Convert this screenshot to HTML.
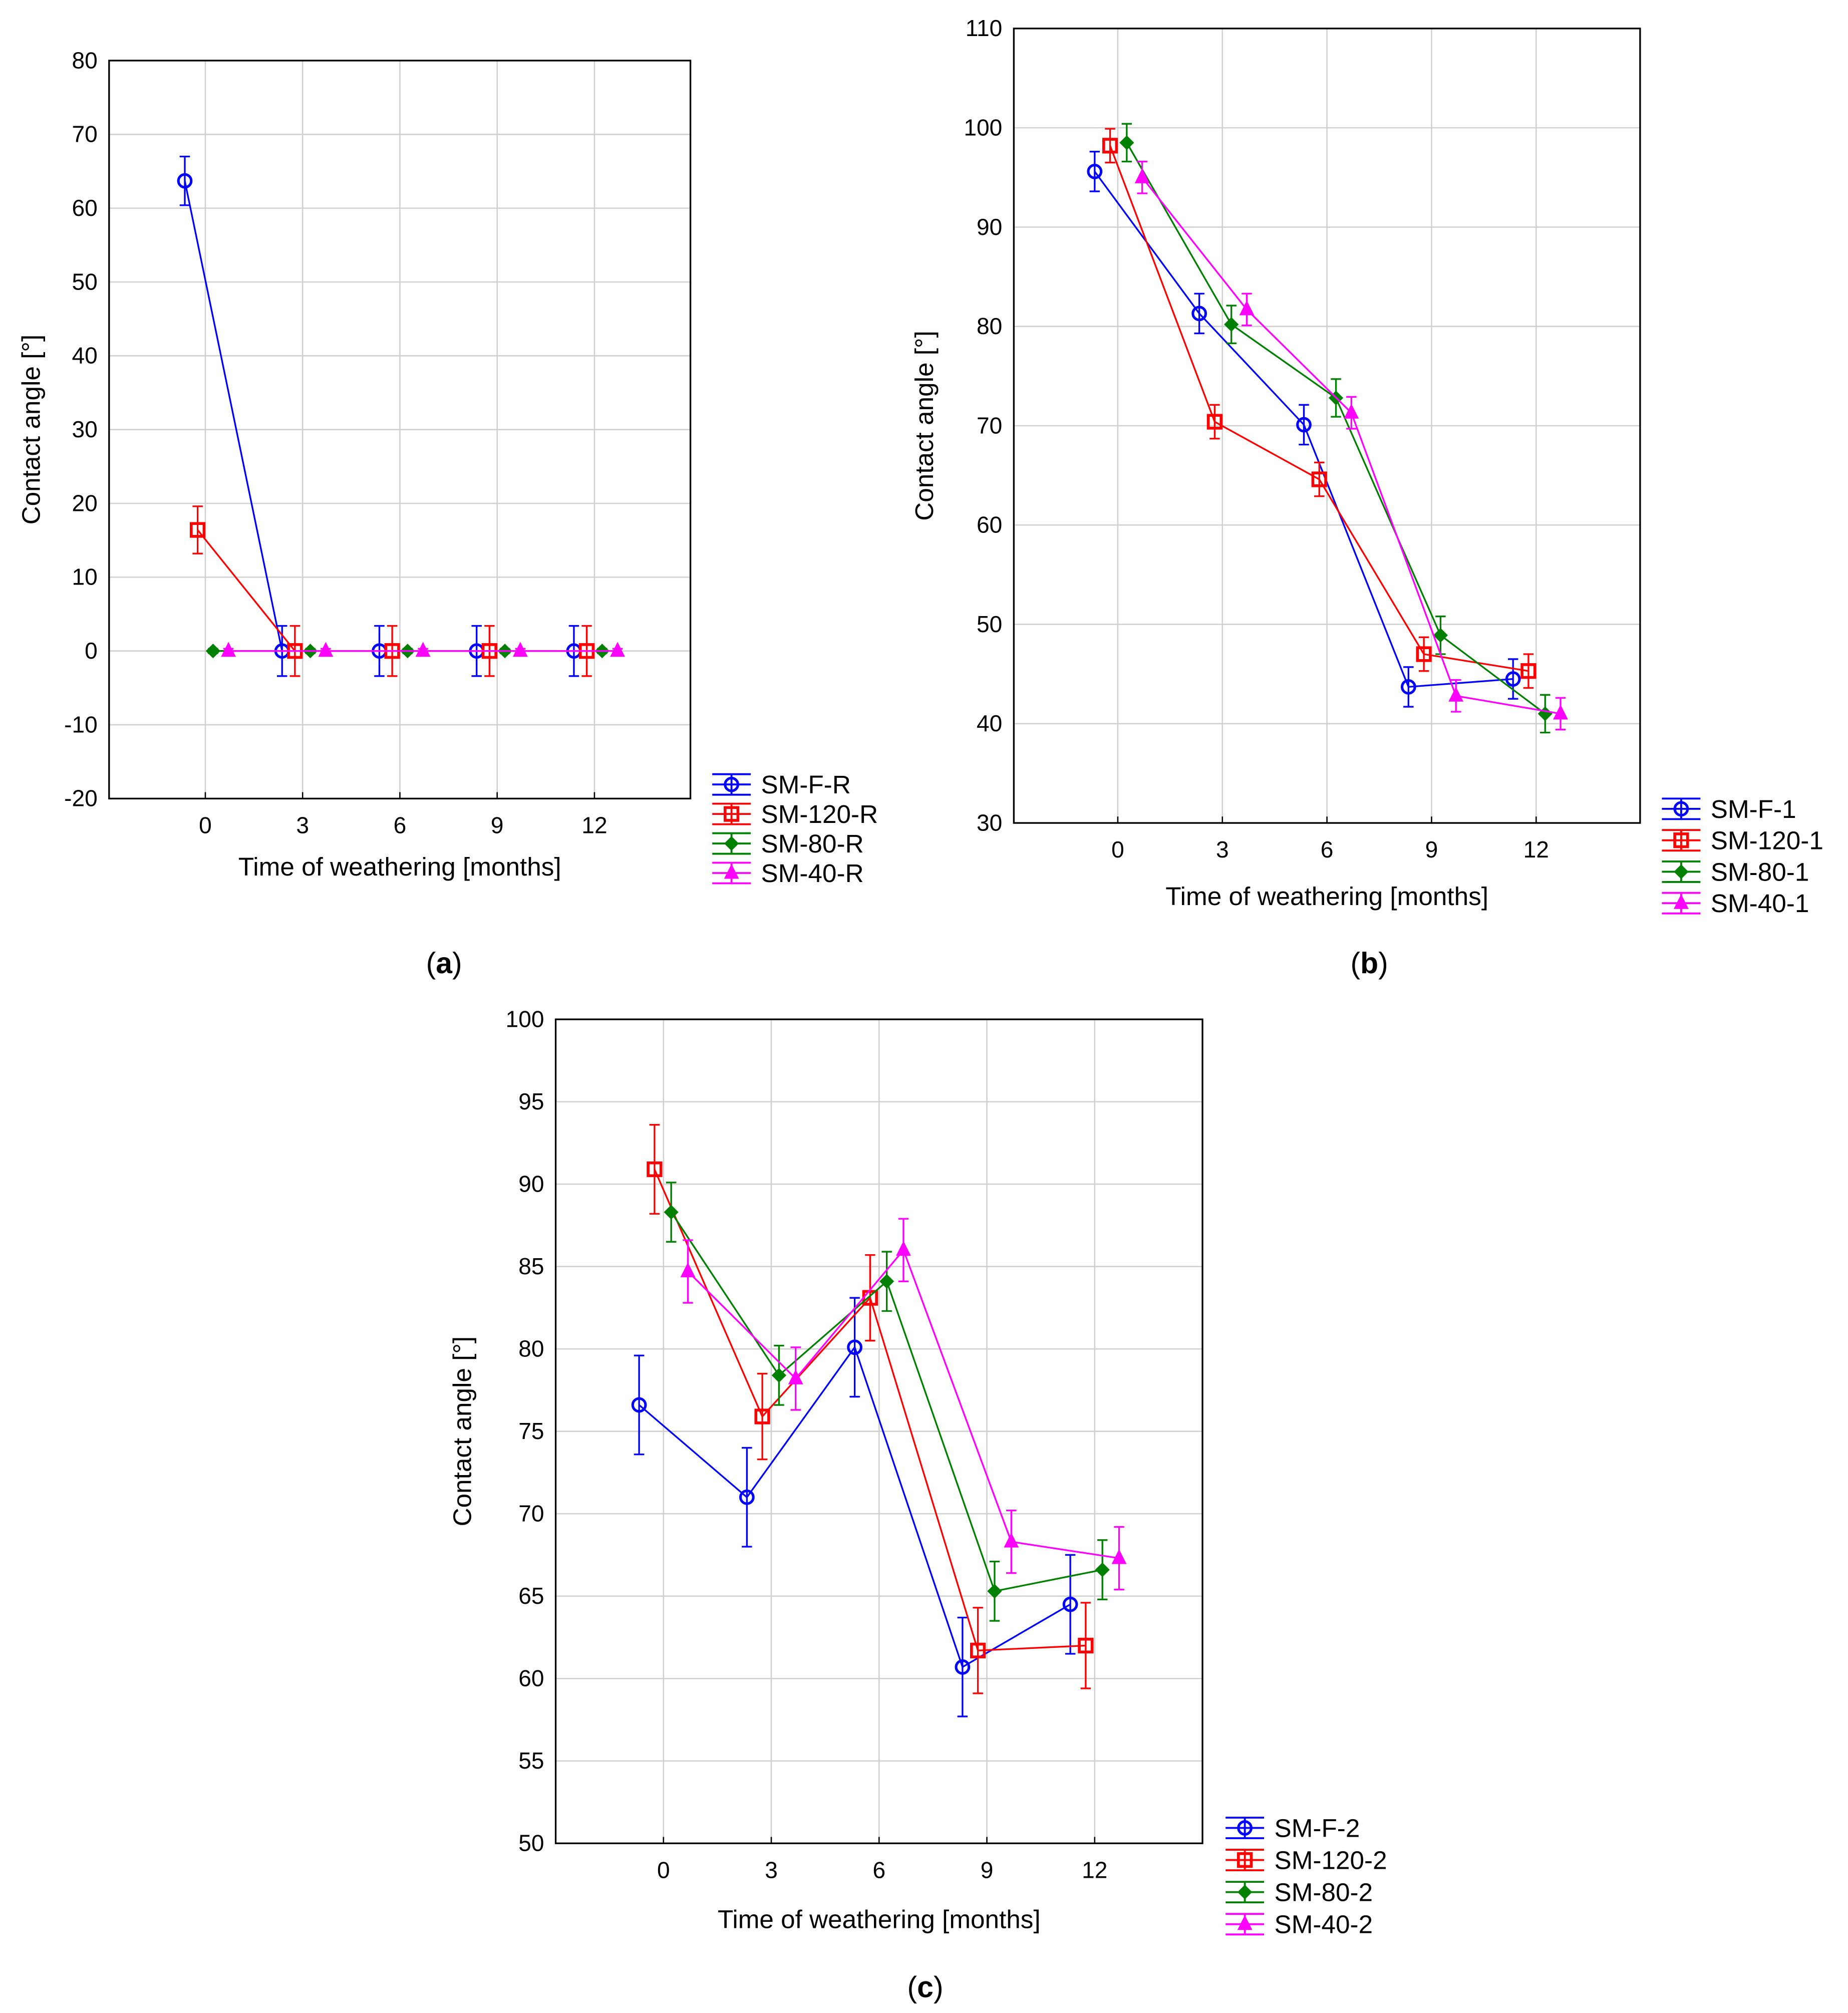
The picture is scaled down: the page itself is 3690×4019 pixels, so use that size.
<!DOCTYPE html>
<html><head><meta charset="utf-8"><style>
html,body{margin:0;padding:0;background:#fff;}
svg{display:block;}
text{font-family:"Liberation Sans",Arial,sans-serif;fill:#000;}
</style></head><body>
<svg id="fig" width="3690" height="4019" viewBox="0 0 1440 1568" xmlns="http://www.w3.org/2000/svg"></svg>
<script>
// ---- data ----
const categories = [0, 3, 6, 9, 12];
const seriesColors = ['#0000ff', '#ff0000', '#008000', '#ff00ff'];
const seriesMarkers = ['circle', 'square', 'diamond', 'triangle'];

const aNames = ['SM-F-R', 'SM-120-R', 'SM-80-R', 'SM-40-R'];
const aF = [63.7, 0, 0, 0, 0];
const a120 = [16.4, 0, 0, 0, 0];
const a80 = [0, 0, 0, 0, 0];
const a40 = [0, 0, 0, 0, 0];
const aErrF = [3.3, 3.4, 3.4, 3.4, 3.4];
const aErr120 = [3.2, 3.4, 3.4, 3.4, 3.4];
const aErr80 = [0.3, 0.3, 0.3, 0.3, 0.3];
const aErr40 = [0.3, 0.3, 0.3, 0.3, 0.3];
const aTicks = [-20, -10, 0, 10, 20, 30, 40, 50, 60, 70, 80];

const bNames = ['SM-F-1', 'SM-120-1', 'SM-80-1', 'SM-40-1'];
const bF = [95.6, 81.3, 70.1, 43.7, 44.5];
const b120 = [98.2, 70.4, 64.6, 47.0, 45.3];
const b80 = [98.5, 80.2, 72.8, 48.9, 41.0];
const b40 = [95.0, 81.7, 71.3, 42.8, 41.0];
const bErrF = [2.0, 2.0, 2.0, 2.0, 2.0];
const bErr120 = [1.7, 1.7, 1.7, 1.7, 1.7];
const bErr80 = [1.9, 1.9, 1.9, 1.9, 1.9];
const bErr40 = [1.6, 1.6, 1.6, 1.6, 1.6];
const bTicks = [30, 40, 50, 60, 70, 80, 90, 100, 110];

const cNames = ['SM-F-2', 'SM-120-2', 'SM-80-2', 'SM-40-2'];
const cF = [76.6, 71.0, 80.1, 60.7, 64.5];
const c120 = [90.9, 75.9, 83.1, 61.7, 62.0];
const c80 = [88.3, 78.4, 84.1, 65.3, 66.6];
const c40 = [84.7, 78.2, 86.0, 68.3, 67.3];
const cErrF = [3.0, 3.0, 3.0, 3.0, 3.0];
const cErr120 = [2.7, 2.6, 2.6, 2.6, 2.6];
const cErr80 = [1.8, 1.8, 1.8, 1.8, 1.8];
const cErr40 = [1.9, 1.9, 1.9, 1.9, 1.9];
const cTicks = [50, 55, 60, 65, 70, 75, 80, 85, 90, 95, 100];

const NS = 'http://www.w3.org/2000/svg';
const svg = document.getElementById('fig');
function mk(tag, attrs, parent, txt) {
  const e = document.createElementNS(NS, tag);
  for (const k in attrs) e.setAttribute(k, attrs[k]);
  if (txt !== undefined) e.textContent = txt;
  (parent || svg).appendChild(e);
  return e;
}
function marker(g, type, x, y, col, r) {
  let m;
  if (type === 'circle') m = mk('circle', {cx: x, cy: y, r: r, fill: 'none', stroke: col, 'stroke-width': 2}, g);
  else if (type === 'square') m = mk('rect', {x: x - r, y: y - r, width: 2 * r, height: 2 * r, fill: 'none', stroke: col, 'stroke-width': 2.2}, g);
  else if (type === 'diamond') m = mk('polygon', {points: `${x},${y - r} ${x + r},${y} ${x},${y + r} ${x - r},${y}`, fill: col, stroke: col, 'stroke-width': 1}, g);
  else m = mk('polygon', {points: `${x},${y - r - 1} ${x + r},${y + r - 1} ${x - r},${y + r - 1}`, fill: col, stroke: col, 'stroke-width': 1}, g);
  return m;
}

function chart(id, box, ymin, ymax, ticks, xc, offsets, names, vals, errs, legend, caption, ytOff, xtOff) {
  const g = mk('g', {});
  
  
  const ys = v => box.y1 - (v - ymin) / (ymax - ymin) * (box.y1 - box.y0);
  const xs = i => xc[0] + i * xc[1];
  ticks.forEach(t => {
    const l = mk('line', {x1: box.x0, x2: box.x1, y1: ys(t), y2: ys(t), stroke: '#d0d0d0', 'stroke-width': 1}, g);
    
    
    const tx = mk('text', {x: box.x0 - 9, y: ys(t) + 6, 'text-anchor': 'end', 'font-size': 18}, g, String(t));
    
    
  });
  categories.forEach((c, i) => {
    const l = mk('line', {x1: xs(i), x2: xs(i), y1: box.y0, y2: box.y1, stroke: '#d0d0d0', 'stroke-width': 1}, g);
    
    
    const tk = mk('line', {x1: xs(i), x2: xs(i), y1: box.y1, y2: box.y1 - 5, stroke: '#000', 'stroke-width': 1}, g);
    
    
    const tx = mk('text', {x: xs(i), y: box.y1 + 27, 'text-anchor': 'middle', 'font-size': 18}, g, String(c));
    
    
  });
  const fr = mk('rect', {x: box.x0, y: box.y0, width: box.x1 - box.x0, height: box.y1 - box.y0, fill: 'none', stroke: '#000', 'stroke-width': 1.3}, g);
  
  
  vals.forEach((arr, s) => {
    const sg = mk('g', {}, g);
    
    
    const col = seriesColors[s];
    const pts = arr.map((v, i) => [xs(i) + offsets[s], ys(v)]);
    const pl = mk('polyline', {points: pts.map(p => p.join(',')).join(' '), fill: 'none', stroke: col, 'stroke-width': 1.3}, sg);
    
    
    arr.forEach((v, i) => {
      const x = pts[i][0], e = errs[s][i];
      const eb = mk('path', {d: `M${x},${ys(v + e)}V${ys(v - e)}M${x - 4},${ys(v + e)}H${x + 4}M${x - 4},${ys(v - e)}H${x + 4}`, stroke: col, 'stroke-width': 1.3, fill: 'none'}, sg);
      
      
      const m = marker(sg, seriesMarkers[s], x, pts[i][1], col, 5);
      
      
    });
  });
  const yt = mk('text', {x: 0, y: 0, 'text-anchor': 'middle', 'font-size': 20, transform: `translate(${box.x0 - ytOff},${(box.y0 + box.y1) / 2}) rotate(-90)`}, g, 'Contact angle [°]');
  
  
  const xt = mk('text', {x: (box.x0 + box.x1) / 2, y: box.y1 + xtOff, 'text-anchor': 'middle', 'font-size': 20}, g, 'Time of weathering [months]');
  
  
  names.forEach((n, s) => {
    const lg = mk('g', {}, g);
    
    
    const col = seriesColors[s];
    const x = legend.x, y = legend.y + s * legend.dy;
    mk('path', {d: `M${x},${y - 8}H${x + 30}M${x},${y}H${x + 30}M${x},${y + 8}H${x + 30}M${x + 15},${y - 8}V${y + 8}`, stroke: col, 'stroke-width': 1.5, fill: 'none'}, lg);
    marker(lg, seriesMarkers[s], x + 15, y, col, 5);
    mk('text', {x: x + 38, y: y + 7, 'font-size': 20}, lg, n);
  });
  const cap = mk('text', {x: caption[0], y: caption[1], 'text-anchor': 'middle', 'font-size': 23, 'font-family': '"Liberation Serif",serif'}, g);
  
  
  mk('tspan', {}, cap, '(');
  mk('tspan', {'font-weight': 'bold'}, cap, caption[2]);
  mk('tspan', {}, cap, ')');
}

chart('a', {x0: 85, x1: 538, y0: 47, y1: 622}, -20, 80, aTicks, [160, 75.8], [-16, -6, 6, 18],
  aNames, [aF, a120, a80, a40], [aErrF, aErr120, aErr80, aErr40], {x: 555, y: 611, dy: 23}, [346, 758, 'a'], 54, 60);
chart('b', {x0: 790, x1: 1278, y0: 22, y1: 641}, 30, 110, bTicks, [871, 81.5], [-18, -6, 7, 19],
  bNames, [bF, b120, b80, b40], [bErrF, bErr120, bErr80, bErr40], {x: 1295, y: 630, dy: 24.5}, [1067, 758, 'b'], 63, 64);
chart('c', {x0: 433, x1: 937, y0: 794, y1: 1436}, 50, 100, cTicks, [517, 84], [-19, -7, 6, 19],
  cNames, [cF, c120, c80, c40], [cErrF, cErr120, cErr80, cErr40], {x: 955, y: 1424, dy: 25}, [721, 1556, 'c'], 66, 66);
</script>
</body></html>
